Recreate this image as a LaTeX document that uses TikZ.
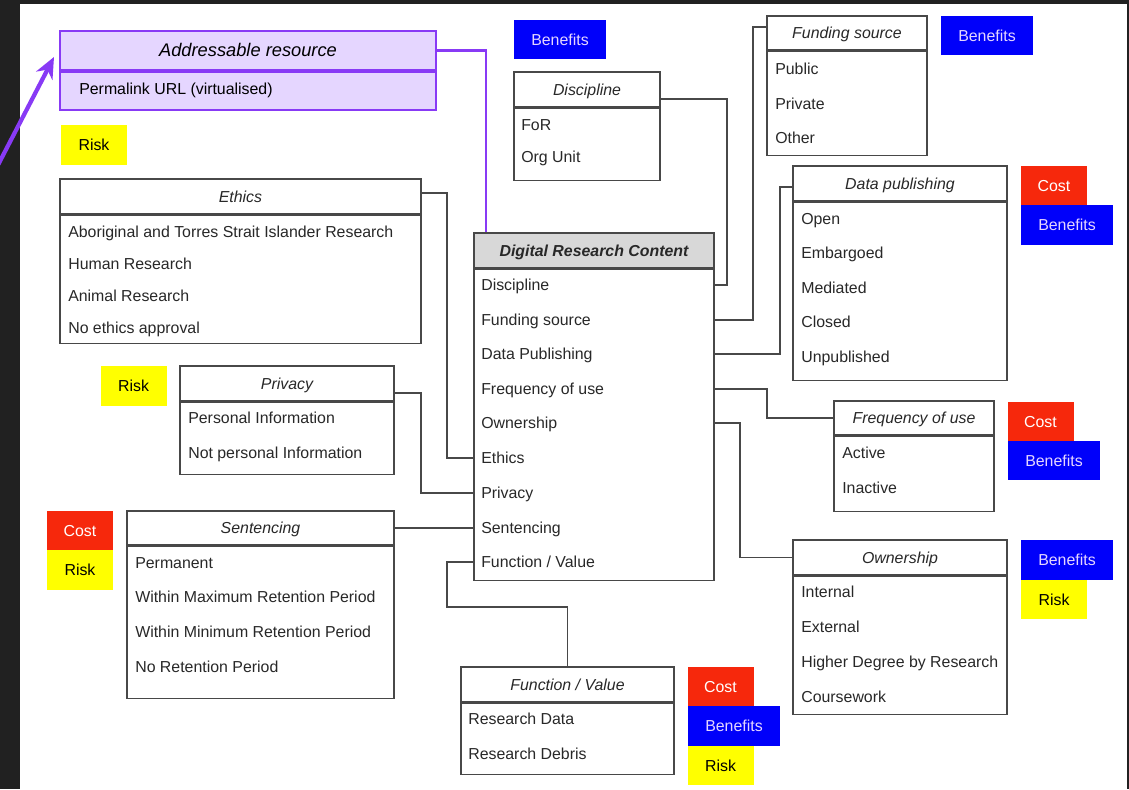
\documentclass[tikz,border=0pt]{standalone}
\usepackage{fontspec}
\setmainfont{Liberation Sans}
\usetikzlibrary{calc,arrows.meta}

\definecolor{bgdark}{RGB}{33,33,33}
\definecolor{boxgray}{RGB}{72,72,72}
\definecolor{txtgray}{RGB}{40,40,40}
\definecolor{hdrfill}{RGB}{216,216,216}
\definecolor{purp}{RGB}{136,58,245}
\definecolor{lav}{RGB}{229,214,255}
\definecolor{costred}{RGB}{246,40,12}
\definecolor{beneblue}{RGB}{0,0,250}
\definecolor{riskyel}{RGB}{255,255,0}

\newcommand{\px}{0.025cm}
\newcommand{\txt}{\fontsize{11.3}{13}\selectfont}

\tikzset{
	hdr/.style={draw=boxgray, line width=1pt, inner sep=0, minimum height=35*\px, font=\txt\itshape, text=txtgray, text height=0.85em, text depth=0pt},
	bdy/.style={draw=boxgray, line width=1pt, inner sep=0, anchor=north},
	itm/.style={anchor=west, inner sep=0, font=\txt, text=txtgray, text height=0.85em, text depth=0pt},
	link/.style={draw=boxgray, line width=1pt},
	badge/.style={inner sep=0, minimum height=39*\px, font=\txt, text height=0.8em, text depth=0pt},
	cost/.style={badge, fill=costred, text=white, minimum width=66*\px},
	bene/.style={badge, fill=beneblue, text=lav, minimum width=92*\px},
	risk/.style={badge, fill=riskyel, text=black, minimum width=66*\px},
}

\begin{document}
\begin{tikzpicture}[x=0.025cm, y=-0.025cm]
			%%%%% START %%%%%
			
			\useasboundingbox (0,0) rectangle (1129,789);
			\fill[bgdark] (0,0) rectangle (1129,789);
			\fill[white] (20,4) rectangle (1127,789);
			
			% addressable resource
			\node[hdr, draw=purp, line width=1.5pt, fill=lav, minimum width=376*\px, minimum height=39*\px, font=\fontsize{13}{15}\selectfont\itshape, text=black] (addr) at (248,50.5) {Addressable resource};
			\node[bdy, draw=purp, line width=1.5pt, fill=lav, minimum width=376*\px, minimum height=38*\px] (addrB) at (addr.south) {};
			\node[itm, text=black] (addr1) at (79,89) {Permalink URL (virtualised)};
			\coordinate (arrstart) at (-2,165);
			\draw[purp, line width=3pt, -{Stealth[length=15pt, width=13pt]}] (arrstart) -- (54,57);
			
			% central box
			\node[hdr, fill=hdrfill, minimum width=240*\px, font=\txt\bfseries\itshape] (drc) at (594,250.5) {Digital Research Content};
			\node[bdy, minimum width=240*\px, minimum height=311*\px] (drcB) at (drc.south) {};
			\node[itm] (r1) at (481,285) {Discipline};
			\node[itm] (r2) at (481,320) {Funding source};
			\node[itm] (r3) at (481,354) {Data Publishing};
			\node[itm] (r4) at (481,389) {Frequency of use};
			\node[itm] (r5) at (481,423) {Ownership};
			\node[itm] (r6) at (481,458) {Ethics};
			\node[itm] (r7) at (481,493) {Privacy};
			\node[itm] (r8) at (481,528) {Sentencing};
			\node[itm] (r9) at (481,562) {Function / Value};
			
			% discipline
			\node[hdr, minimum width=146*\px] (disc) at (587,89.5) {Discipline};
			\node[bdy, minimum width=146*\px, minimum height=72*\px] (discB) at (disc.south) {};
			\node[itm] (disc1) at (521,125) {FoR};
			\node[itm] (disc2) at (521,157) {Org Unit};
			
			% funding source
			\node[hdr, minimum width=160*\px, minimum height=34*\px] (fund) at (847,33) {Funding source};
			\node[bdy, minimum width=160*\px, minimum height=104*\px] (fundB) at (fund.south) {};
			\node[itm] (fund1) at (775,69) {Public};
			\node[itm] (fund2) at (775,104) {Private};
			\node[itm] (fund3) at (775,138) {Other};
			
			% data publishing
			\node[hdr, minimum width=214*\px] (dpub) at (900,183.5) {Data publishing};
			\node[bdy, minimum width=214*\px, minimum height=178*\px] (dpubB) at (dpub.south) {};
			\node[itm] (dpub1) at (801,219) {Open};
			\node[itm] (dpub2) at (801,253) {Embargoed};
			\node[itm] (dpub3) at (801,288) {Mediated};
			\node[itm] (dpub4) at (801,322) {Closed};
			\node[itm] (dpub5) at (801,357) {Unpublished};
			
			% frequency of use
			\node[hdr, minimum width=160*\px, minimum height=34*\px] (freq) at (914,418) {Frequency of use};
			\node[bdy, minimum width=160*\px, minimum height=75*\px] (freqB) at (freq.south) {};
			\node[itm] (freq1) at (842,453) {Active};
			\node[itm] (freq2) at (842,488) {Inactive};
			
			% ownership
			\node[hdr, minimum width=214*\px] (own) at (900,557.5) {Ownership};
			\node[bdy, minimum width=214*\px, minimum height=138*\px] (ownB) at (own.south) {};
			\node[itm] (own1) at (801,592) {Internal};
			\node[itm] (own2) at (801,627) {External};
			\node[itm] (own3) at (801,662) {Higher Degree by Research};
			\node[itm] (own4) at (801,697) {Coursework};
			
			% ethics
			\node[hdr, minimum width=361*\px] (eth) at (240.5,196.5) {Ethics};
			\node[bdy, minimum width=361*\px, minimum height=128*\px] (ethB) at (eth.south) {};
			\node[itm] (eth1) at (68,232) {Aboriginal and Torres Strait Islander Research};
			\node[itm] (eth2) at (68,264) {Human Research};
			\node[itm] (eth3) at (68,296) {Animal Research};
			\node[itm] (eth4) at (68,328) {No ethics approval};
			
			% privacy
			\node[hdr, minimum width=214*\px] (priv) at (287,383.5) {Privacy};
			\node[bdy, minimum width=214*\px, minimum height=72*\px] (privB) at (priv.south) {};
			\node[itm] (priv1) at (188,418) {Personal Information};
			\node[itm] (priv2) at (188,453) {Not personal Information};
			
			% sentencing
			\node[hdr, minimum width=267*\px, minimum height=34*\px] (sent) at (260.5,528) {Sentencing};
			\node[bdy, minimum width=267*\px, minimum height=152*\px] (sentB) at (sent.south) {};
			\node[itm] (sent1) at (135,563) {Permanent};
			\node[itm] (sent2) at (135,597) {Within Maximum Retention Period};
			\node[itm] (sent3) at (135,632) {Within Minimum Retention Period};
			\node[itm] (sent4) at (135,667) {No Retention Period};
			
			% function / value
			\node[hdr, minimum width=213*\px] (fval) at (567.5,684.5) {Function / Value};
			\node[bdy, minimum width=213*\px, minimum height=71*\px] (fvalB) at (fval.south) {};
			\node[itm] (fval1) at (468,719) {Research Data};
			\node[itm] (fval2) at (468,754) {Research Debris};
			
			% badges
			\node[bene] (b1) at (560,39.5) {Benefits};
			\node[bene] (b2) at (987,35.5) {Benefits};
			\node[risk, minimum height=40*\px] (k1) at (94,145) {Risk};
			\node[cost] (c1) at (1054,185.5) {Cost};
			\node[bene, minimum height=40*\px] (b3) at (1067,225) {Benefits};
			\node[cost] (c2) at (1040.5,421.5) {Cost};
			\node[bene] (b4) at (1054,460.5) {Benefits};
			\node[risk, minimum height=40*\px] (k2) at (133.5,386) {Risk};
			\node[cost] (c3) at (80,530.5) {Cost};
			\node[risk, minimum height=40*\px] (k3) at (80,570) {Risk};
			\node[bene, minimum height=40*\px] (b5) at (1067,560) {Benefits};
			\node[risk] (k4) at (1054,599.5) {Risk};
			\node[cost] (c4) at (720.5,686.5) {Cost};
			\node[bene, minimum height=40*\px] (b6) at (734,726) {Benefits};
			\node[risk] (k5) at (720.5,765.5) {Risk};
			
			% connectors
			\draw[purp, line width=1.5pt] (addr.east) -| (486,0 |- drc.north);
			\draw[link] (disc.east |- 0,99) -| (727,0 |- r1) -- (r1 -| drcB.east);
			\draw[link] (fund.west |- 0,27) -| (753,0 |- r2) -- (r2 -| drcB.east);
			\draw[link] (dpub.west |- 0,187) -| (780,0 |- r3) -- (r3 -| drcB.east);
			\draw[link] (r4 -| drcB.east) -| (767,0 |- freq.west) -- (freq.west);
			\draw[link] (r5 -| drcB.east) -| (740,0 |- own.west) -- (own.west);
			\draw[link] (eth.east |- 0,193) -| (447,0 |- r6) -- (r6 -| drcB.west);
			\draw[link] (priv.east |- 0,393) -| (421,0 |- r7) -- (r7 -| drcB.west);
			\draw[link] (sent.east) -- (r8 -| drcB.west);
			\draw[link] (r9 -| drcB.west) -| (447,607) -| (fval.north);
			
			%%%%% END %%%%%
\end{tikzpicture}
\end{document}
